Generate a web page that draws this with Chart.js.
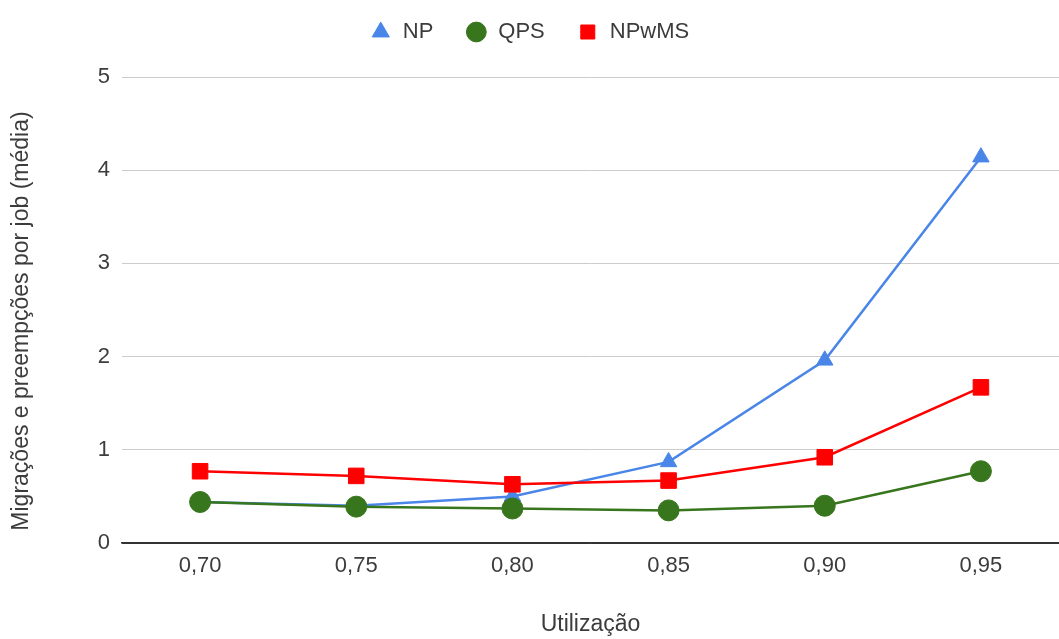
<!DOCTYPE html>
<html>
<head>
<meta charset="utf-8">
<script src="https://cdn.jsdelivr.net/npm/chart.js@4/dist/chart.umd.min.js"></script>
<style>
  html, body { margin: 0; padding: 0; background: #fff; }
  #wrap { width: 1059px; height: 639px; }
</style>
</head>
<body>
<div id="wrap"><canvas id="c" width="1059" height="639"></canvas></div>
<script>
// Utilização (x) vs. migrações e preempções por job (média)
const categories = ["0,70", "0,75", "0,80", "0,85", "0,90", "0,95"];
const npValues    = [0.44, 0.40, 0.50, 0.87, 1.96, 4.14];
const qpsValues   = [0.44, 0.39, 0.37, 0.35, 0.40, 0.77];
const npwmsValues = [0.77, 0.72, 0.63, 0.67, 0.92, 1.67];
const yTicks = [0, 1, 2, 3, 4, 5];

const FONT = "'Liberation Sans', Arial, sans-serif";
const TEXT = "#3c3c3c";
const FS = 22;      // ticks and legend
const FS_TITLE = 23; // axis titles

// Draws a box's output shifted vertically by dy pixels
function shiftDraw(chart, obj, method, dy) {
  if (!obj || obj["_shifted_" + method]) return;
  const orig = obj[method].bind(obj);
  obj[method] = function (...args) {
    const ctx = chart.ctx;
    ctx.save();
    ctx.translate(0, dy);
    orig(...args);
    ctx.restore();
  };
  obj["_shifted_" + method] = true;
}

// Fixed legend band height, legend nudged up, y title nudged down
const layoutTweaks = {
  id: "layoutTweaks",
  afterInit(chart) {
    const lg = chart.legend;
    const fit = lg.fit.bind(lg);
    lg.fit = function () { fit(); this.height = 77; };
    shiftDraw(chart, lg, "draw", -11);
  },
  beforeDraw(chart) {
    shiftDraw(chart, chart.scales.y, "drawTitle", 11);
  }
};

new Chart(document.getElementById("c"), {
  type: "line",
  data: {
    labels: categories,
    datasets: [
      {
        label: "NP",
        data: npValues,
        borderColor: "#4a86e8",
        backgroundColor: "#4a86e8",
        borderWidth: 2.5,
        pointStyle: "triangle",
        pointRadius: 9.5,
        pointHoverRadius: 9.5,
        pointBorderWidth: 1,
        order: 3
      },
      {
        label: "QPS",
        data: qpsValues,
        borderColor: "#38761d",
        backgroundColor: "#38761d",
        borderWidth: 2.5,
        pointStyle: "circle",
        pointRadius: 10.5,
        pointHoverRadius: 10.5,
        pointBorderWidth: 1,
        order: 2
      },
      {
        label: "NPwMS",
        data: npwmsValues,
        borderColor: "#ff0000",
        backgroundColor: "#ff0000",
        borderWidth: 2.5,
        pointStyle: "rect",
        pointRadius: 11,
        pointHoverRadius: 11,
        pointBorderWidth: 1,
        order: 1
      }
    ]
  },
  options: {
    responsive: false,
    animation: false,
    layout: { autoPadding: false, padding: { top: 0, right: 0, left: 0, bottom: 0 } },
    plugins: {
      tooltip: { enabled: false },
      legend: {
        position: "top",
        align: "center",
        labels: {
          usePointStyle: true,
          boxWidth: 22,
          boxHeight: 14,
          padding: 32,
          color: TEXT,
          font: { family: FONT, size: FS },
          sort: (a, b) => a.datasetIndex - b.datasetIndex
        }
      }
    },
    scales: {
      x: {
        type: "category",
        offset: true,
        grid: { display: false, drawTicks: false },
        border: { display: true, color: "#333", width: 1.5 },
        ticks: { color: TEXT, padding: 10, font: { family: FONT, size: FS } },
        title: {
          display: true,
          text: "Utilização",
          color: TEXT,
          font: { family: FONT, size: FS_TITLE },
          padding: { top: 0, bottom: 1 }
        },
        afterFit: (s) => { s.height = 96; }
      },
      y: {
        min: 0,
        max: 5,
        afterBuildTicks: (s) => { s.ticks = yTicks.map(v => ({ value: v })); },
        grid: {
          color: (ctx) => ctx.tick && ctx.tick.value === 0 ? "#333" : "#cccccc",
          lineWidth: 1,
          drawTicks: false
        },
        border: { display: false },
        ticks: { color: TEXT, padding: 12, font: { family: FONT, size: FS } },
        title: {
          display: true,
          text: "Migrações e preempções por job (média)",
          color: TEXT,
          font: { family: FONT, size: FS_TITLE },
          padding: { top: 8, bottom: 0 }
        },
        afterFit: (s) => { s.width = 122; }
      }
    }
  },
  plugins: [layoutTweaks]
});
</script>
</body>
</html>
